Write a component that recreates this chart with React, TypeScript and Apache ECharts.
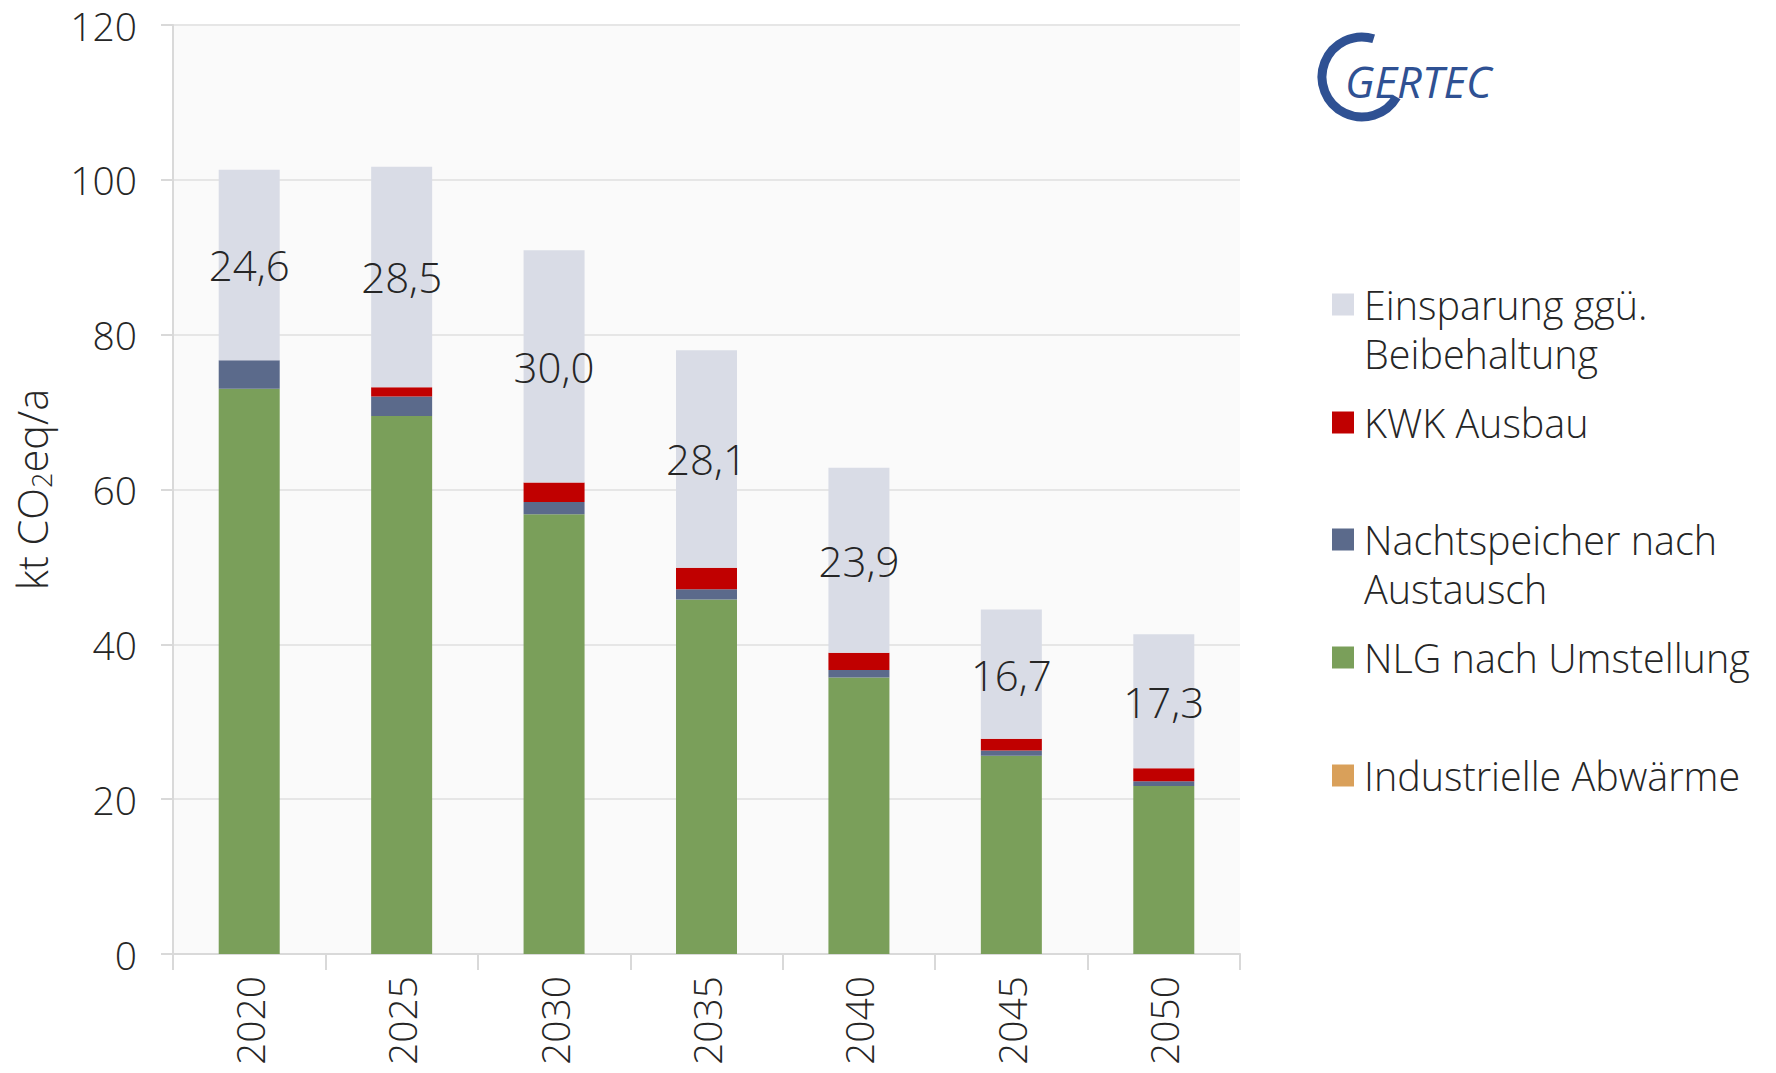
import React, { useEffect, useRef } from "react";
import * as echarts from "echarts";

const years = ["2020", "2025", "2030", "2035", "2040", "2045", "2050"];
const industrielle = [0, 0, 0, 0, 0, 0, 0];
const nlg = [73.0, 69.5, 56.8, 45.8, 35.7, 25.6, 21.7];
const nachtspeicher = [3.7, 2.5, 1.6, 1.3, 1.0, 0.7, 0.6];
const kwk = [0, 1.2, 2.5, 2.8, 2.2, 1.5, 1.7];
const einsparung = [24.6, 28.5, 30.0, 28.1, 23.9, 16.7, 17.3];
const yTicks = { min: 0, max: 120, interval: 20 };

const FONT = "'Open Sans', 'Liberation Sans', sans-serif";
const TXT = "#262626";

const names = {
  ein: "Einsparung ggü. Beibehaltung",
  kwk: "KWK Ausbau",
  nacht: "Nachtspeicher nach Austausch",
  nlg: "NLG nach Umstellung",
  ind: "Industrielle Abwärme",
};
const legendLines: Record<string, string[]> = {
  [names.ein]: ["Einsparung ggü.", "Beibehaltung"],
  [names.kwk]: ["KWK Ausbau"],
  [names.nacht]: ["Nachtspeicher nach", "Austausch"],
  [names.nlg]: ["NLG nach Umstellung"],
  [names.ind]: ["Industrielle Abwärme"],
};
const colors = {
  ein: "#d9dce6",
  kwk: "#c00000",
  nacht: "#5b6a8b",
  nlg: "#7a9f5a",
  ind: "#d9a05a",
};

export default function App() {
  const ref = useRef<HTMLDivElement>(null);
  useEffect(() => {
    if (!ref.current) return;
    const chart = echarts.init(ref.current, null, { renderer: "svg" });
    const LH = 49;
    const SQ = 22;
    const tallH = 2 * (SQ / 2 + LH / 2);
    const tallIcon = `path://M0,0L${SQ},0L${SQ},${SQ}L0,${SQ}Z M0,${tallH - 0.01}L0.01,${tallH - 0.01}L0.01,${tallH}L0,${tallH}Z`;
    const mkLegend = (name: string, center: number) => {
      const two = legendLines[name].length > 1;
      return {
        left: 1332,
        top: center - 21.5,
        padding: 0,
        orient: "vertical",
        itemWidth: SQ,
        itemHeight: two ? tallH : SQ,
        itemGap: 0,
        selectedMode: false,
        data: [{ name, icon: two ? tallIcon : "rect" }],
        formatter: (n: string) => legendLines[n].map((l) => `{t|${l}}`).join("\n"),
        textStyle: {
          color: TXT,
          rich: {
            t: {
              fontFamily: FONT,
              fontWeight: 300,
              fontSize: 39.5,
              color: TXT,
              lineHeight: LH,
              padding: [0, 0, 0, 5],
            },
          },
        },
      };
    };
    const bar = (name: string, data: number[], color: string, extra: any = {}) => ({
      name,
      type: "bar",
      stack: "total",
      barWidth: 61,
      data,
      itemStyle: { color },
      ...extra,
    });
    chart.setOption({
      animation: false,
      backgroundColor: "#ffffff",
      textStyle: { fontFamily: FONT },
      grid: {
        left: 173,
        right: 536,
        top: 25,
        bottom: 119,
        show: true,
        backgroundColor: "#fafafa",
        borderWidth: 0,
        outerBoundsMode: "none",
        containLabel: false,
      },
      legend: [
        mkLegend(names.ein, 306),
        mkLegend(names.kwk, 424),
        mkLegend(names.nacht, 541),
        mkLegend(names.nlg, 659),
        mkLegend(names.ind, 777),
      ],
      xAxis: {
        type: "category",
        data: years,
        axisLine: { lineStyle: { color: "#d9d9d9", width: 2 } },
        axisTick: { show: true, length: 16, lineStyle: { color: "#d9d9d9", width: 2 } },
        axisLabel: {
          rotate: 90,
          margin: 22,
          fontSize: 39,
          fontWeight: 300,
          fontFamily: FONT,
          color: TXT,
        },
      },
      yAxis: {
        type: "value",
        min: yTicks.min,
        max: yTicks.max,
        interval: yTicks.interval,
        name: "{n|kt CO}{s|2}{n|eq/a}",
        nameLocation: "middle",
        nameGap: 118,
        nameTextStyle: {
          rich: {
            n: { fontSize: 41.5, fontWeight: 300, fontFamily: FONT, color: TXT, lineHeight: 46 },
            s: { fontSize: 27, fontWeight: 300, fontFamily: FONT, color: TXT, lineHeight: 18, verticalAlign: "bottom" },
          },
        },
        axisLine: { show: true, lineStyle: { color: "#d9d9d9", width: 2 } },
        axisTick: { show: true, length: 12, lineStyle: { color: "#d9d9d9", width: 2 } },
        splitLine: { lineStyle: { color: "#e6e6e6", width: 2 } },
        axisLabel: {
          margin: 36,
          fontSize: 39,
          fontWeight: 300,
          fontFamily: FONT,
          color: TXT,
        },
      },
      series: [
        bar(names.ind, industrielle, colors.ind),
        bar(names.nlg, nlg, colors.nlg),
        bar(names.nacht, nachtspeicher, colors.nacht),
        bar(names.kwk, kwk, colors.kwk),
        bar(names.ein, einsparung, colors.ein, {
          label: {
            show: true,
            position: "inside",
            fontSize: 42,
            fontWeight: 300,
            fontFamily: FONT,
            color: TXT,
            formatter: (p: any) => Number(p.value).toFixed(1).replace(".", ","),
          },
        }),
      ],
      graphic: [
        {
          type: "arc",
          shape: {
            cx: 1362,
            cy: 77,
            r: 40,
            startAngle: (30 * Math.PI) / 180,
            endAngle: (287 * Math.PI) / 180,
            clockwise: true,
          },
          style: { stroke: "#2f5193", lineWidth: 9, fill: "none" },
        },
        {
          type: "text",
          x: 1345,
          y: 81,
          style: {
            text: "GERTEC",
            fontFamily: FONT,
            fontStyle: "italic",
            fontSize: 43.5,
            fill: "#2f5193",
            verticalAlign: "middle",
            align: "left",
          },
        },
      ],
    });
    return () => chart.dispose();
  }, []);
  return (
    <div
      ref={ref}
      style={{ position: "fixed", left: 0, top: 0, width: 1776, height: 1073 }}
    />
  );
}
